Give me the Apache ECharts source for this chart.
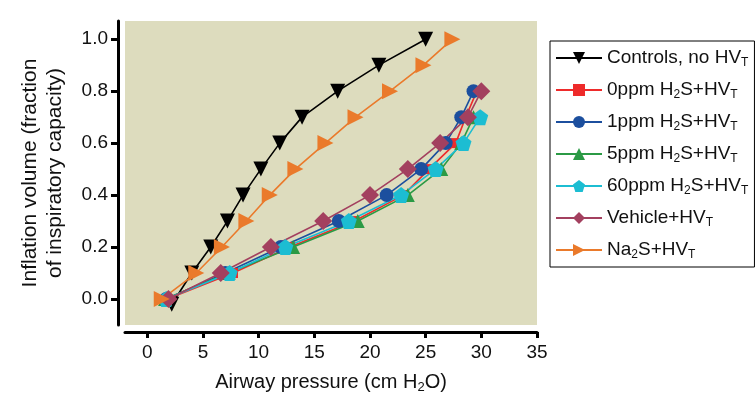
<!DOCTYPE html>
<html>
<head>
<meta charset="utf-8">
<script src="https://cdn.jsdelivr.net/npm/echarts@6/dist/echarts.min.js"></script>
<style>
  html, body { margin: 0; padding: 0; background: #fff; }
  #chart { width: 756px; height: 395px; }
</style>
</head>
<body>
<div id="chart"></div>
<script>
// x ticks / y ticks shown on the axes
const xTicks = [0, 5, 10, 15, 20, 25, 30, 35]
const yTicks = [0, 0.2, 0.4, 0.6, 0.8, 1.0]

// [airway pressure, inflation volume]
const controls = [[2.2, -0.02], [4.0, 0.1], [5.7, 0.2], [7.2, 0.3], [8.6, 0.4], [10.2, 0.5], [11.9, 0.6], [13.9, 0.7], [17.1, 0.8], [20.8, 0.9], [25.0, 1.0]]
const ppm0 = [[1.8, 0], [7.7, 0.1], [12.8, 0.2], [18.6, 0.3], [23.0, 0.4], [25.3, 0.5], [27.7, 0.6], [28.6, 0.7], [29.6, 0.8]]
const ppm1 = [[1.7, 0], [7.0, 0.1], [12.0, 0.2], [17.2, 0.3], [21.5, 0.4], [24.6, 0.5], [26.8, 0.6], [28.2, 0.7], [29.3, 0.8]]
const ppm5 = [[1.6, 0], [7.3, 0.1], [13.1, 0.2], [18.9, 0.3], [23.4, 0.4], [26.4, 0.5], [28.2, 0.6], [29.3, 0.7]]
const ppm60 = [[1.7, 0], [7.4, 0.1], [12.4, 0.2], [18.1, 0.3], [22.8, 0.4], [25.9, 0.5], [28.4, 0.6], [29.9, 0.7]]
const vehicle = [[1.9, 0], [6.6, 0.1], [11.1, 0.2], [15.8, 0.3], [20.0, 0.4], [23.4, 0.5], [26.3, 0.6], [28.8, 0.7], [30.0, 0.8]]
const na2s = [[1.3, 0], [4.4, 0.1], [6.7, 0.2], [8.9, 0.3], [11.0, 0.4], [13.3, 0.5], [16.0, 0.6], [18.7, 0.7], [21.8, 0.8], [24.8, 0.9], [27.4, 1.0]]

const seriesNames = ["Controls, no HVT", "0ppm H2S+HVT", "1ppm H2S+HVT", "5ppm H2S+HVT", "60ppm H2S+HVT", "Vehicle+HVT", "Na2S+HVT"]
// rich-text labels with subscripts
const legendLabels = {
  "Controls, no HVT": "{n|Controls, no HV}{s|T}",
  "0ppm H2S+HVT": "{n|0ppm H}{s|2}{n|S+HV}{s|T}",
  "1ppm H2S+HVT": "{n|1ppm H}{s|2}{n|S+HV}{s|T}",
  "5ppm H2S+HVT": "{n|5ppm H}{s|2}{n|S+HV}{s|T}",
  "60ppm H2S+HVT": "{n|60ppm H}{s|2}{n|S+HV}{s|T}",
  "Vehicle+HVT": "{n|Vehicle+HV}{s|T}",
  "Na2S+HVT": "{n|Na}{s|2}{n|S+HV}{s|T}",
}

const pentagon = "path://M0,-10L9.51,-3.09L5.88,8.09L-5.88,8.09L-9.51,-3.09Z"
const font = "Liberation Sans, Arial, sans-serif"

function line(name, data, color, symbol, size, rotate) {
  return {
    name,
    type: "line",
    data,
    symbol,
    symbolSize: size,
    symbolRotate: rotate || 0,
    lineStyle: { color, width: 1.6 },
    itemStyle: { color },
    animation: false,
  }
}

const chart = echarts.init(document.getElementById("chart"))
chart.setOption({
  textStyle: { fontFamily: font },
  grid: {
    left: 125, right: 219, top: 21, bottom: 70,
    outerBoundsMode: "none", containLabel: false,
    show: true, backgroundColor: "#dddcbe", borderWidth: 0,
  },
  legend: {
    orient: "vertical",
    left: 550,
    top: 41,
    data: seriesNames,
    padding: [6, 6, 6, 5],
    borderColor: "#000",
    borderWidth: 1,
    itemWidth: 46,
    itemHeight: 15,
    itemGap: 10,
    formatter: (name) => legendLabels[name],
    textStyle: {
      rich: {
        n: { fontSize: 19, color: "#111", fontFamily: font, lineHeight: 22 },
        s: { fontSize: 12, color: "#111", fontFamily: font, verticalAlign: "bottom", lineHeight: 12, padding: [10, 0, 0, 0] },
      },
    },
  },
  xAxis: {
    type: "value",
    min: -2,
    max: 35,
    offset: 7,
    splitLine: { show: false },
    axisLine: { show: true, onZero: false, lineStyle: { color: "#000", width: 3 } },
    axisTick: { show: true, customValues: xTicks, length: 6, lineStyle: { color: "#000", width: 3 } },
    axisLabel: { customValues: xTicks, fontSize: 19, color: "#111", margin: 11 },
    name: "{n|Airway pressure (cm H}{s|2}{n|O)}",
    nameLocation: "middle",
    nameGap: 38,
    nameTextStyle: {
      rich: {
        n: { fontSize: 20, color: "#111", fontFamily: font, lineHeight: 24 },
        s: { fontSize: 13, color: "#111", fontFamily: font, verticalAlign: "bottom", lineHeight: 13, padding: [10, 0, 0, 0] },
      },
    },
  },
  yAxis: {
    type: "value",
    min: -0.1,
    max: 1.07,
    offset: 7,
    splitLine: { show: false },
    axisLine: { show: true, onZero: false, lineStyle: { color: "#000", width: 3 } },
    axisTick: { show: true, customValues: yTicks, length: 7, lineStyle: { color: "#000", width: 3 } },
    axisLabel: { customValues: yTicks, fontSize: 19, color: "#111", margin: 10, formatter: (v) => v.toFixed(1) },
    name: "Inflation volume (fraction\nof inspiratory capacity)",
    nameLocation: "middle",
    nameGap: 50,
    nameRotate: 90,
    nameTextStyle: { fontSize: 21, color: "#111", lineHeight: 25, align: "center" },
  },
  series: [
    line(seriesNames[0], controls, "#000000", "triangle", 15, 180),
    line(seriesNames[1], ppm0, "#ee2b2b", "rect", 10),
    line(seriesNames[2], ppm1, "#1c4f9e", "circle", 14),
    line(seriesNames[3], ppm5, "#2b9a45", "triangle", 14),
    line(seriesNames[4], ppm60, "#1cbdd2", pentagon, 16),
    line(seriesNames[5], vehicle, "#a3405f", "diamond", 18),
    line(seriesNames[6], na2s, "#ea7a2b", "triangle", 16, -90),
  ],
})
</script>
</body>
</html>
